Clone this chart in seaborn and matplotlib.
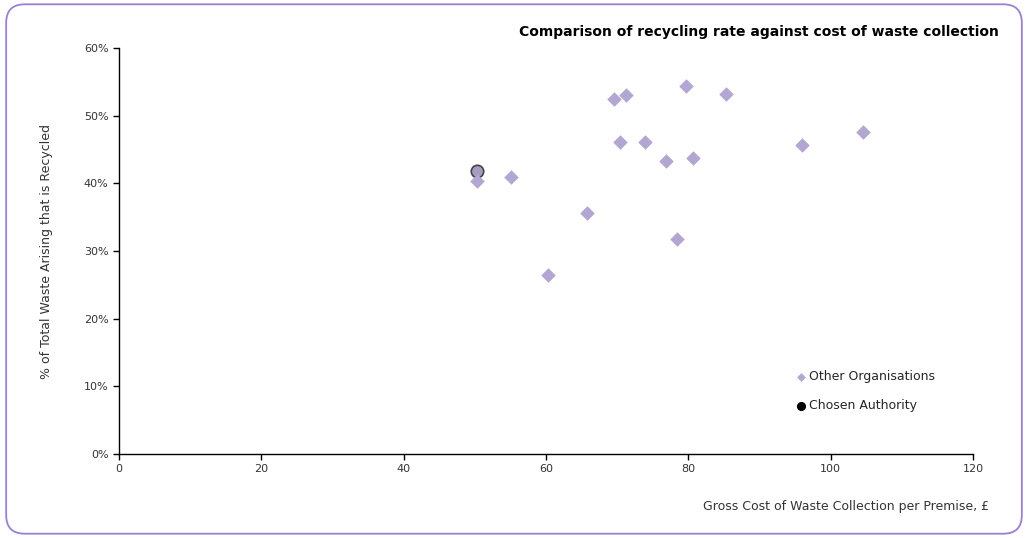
import matplotlib
matplotlib.use("Agg")
import matplotlib.pyplot as plt
import seaborn as sns
import pandas as pd
from matplotlib.patches import FancyBboxPatch
from matplotlib.ticker import PercentFormatter

# values
other_cost = [50.3, 55.1, 60.3, 65.8, 69.6, 71.2, 70.4, 73.9, 76.8, 80.7, 78.4, 79.7, 85.3, 96.0, 104.5]
other_rate = [40.3, 40.9, 26.4, 35.6, 52.4, 53.0, 46.1, 46.1, 43.3, 43.7, 31.8, 54.4, 53.2, 45.6, 47.6]
chosen_cost = [50.3]
chosen_rate = [41.8]

others = pd.DataFrame({"cost": other_cost, "rate": other_rate})
chosen = pd.DataFrame({"cost": chosen_cost, "rate": chosen_rate})

sns.set_style("white")
plt.rcParams["font.family"] = ["DejaVu Sans"]

fig = plt.figure(figsize=(10.28, 5.38), dpi=100)
ax = fig.add_axes([0.1158, 0.156, 0.8307, 0.7548])

lav = "#b3a6d3"
sns.scatterplot(data=chosen, x="cost", y="rate", ax=ax, marker="o", s=80,
                color="#a79cc0", edgecolor="#444444", linewidth=1.2,
                label="Chosen Authority", zorder=2)
sns.scatterplot(data=others, x="cost", y="rate", ax=ax, marker="D", s=55,
                color=lav, edgecolor=lav, linewidth=0,
                label="Other Organisations", zorder=3)

ax.set_xlim(0, 120)
ax.set_ylim(0, 60)
ax.set_xticks(range(0, 121, 20))
ax.set_yticks(range(0, 61, 10))
ax.yaxis.set_major_formatter(PercentFormatter(decimals=0))
for s in ["top", "right"]:
    ax.spines[s].set_visible(False)
for s in ["left", "bottom"]:
    ax.spines[s].set_color("black")
    ax.spines[s].set_linewidth(1.0)
ax.tick_params(axis="both", direction="out", length=4, width=1, color="black",
               labelsize=8, labelcolor="#333333", left=True, bottom=True)

ax.set_xlabel("")
ax.set_ylabel("% of Total Waste Arising that is Recycled", fontsize=9, color="#333333",
              labelpad=22)
fig.text(0.962, 0.058, "Gross Cost of Waste Collection per Premise, £",
         ha="right", va="center", fontsize=9, color="#333333")
fig.text(0.972, 0.94, "Comparison of recycling rate against cost of waste collection",
         ha="right", va="center", fontsize=10, fontweight="bold", color="black")

h, l = ax.get_legend_handles_labels()
leg = ax.legend(h[::-1], l[::-1], loc="upper left", bbox_to_anchor=(0.78, 0.235),
                frameon=False, fontsize=9, handletextpad=0.2, markerscale=0.6,
                labelspacing=1.3, handlelength=0.8)
leg.legend_handles[1].set_facecolor("black")
leg.legend_handles[1].set_edgecolor("black")

border = FancyBboxPatch((0.006, 0.008), 0.988, 0.984, boxstyle="round,pad=0,rounding_size=0.018",
                        transform=fig.transFigure, facecolor="none", edgecolor="#9a80d0",
                        linewidth=1.3, mutation_aspect=1028 / 538)
fig.patches.append(border)

fig.savefig("out.png", dpi=100)
